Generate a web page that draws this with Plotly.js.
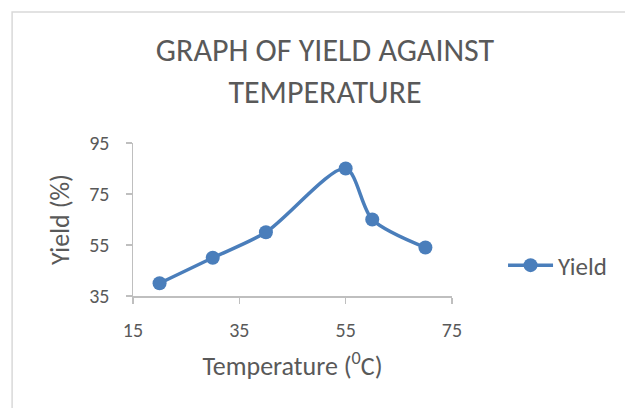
<!DOCTYPE html>
<html>
<head>
<meta charset="utf-8">
<script src="https://cdn.plot.ly/plotly-3.0.1.min.js"></script>
<style>html,body{margin:0;padding:0;background:#fff;}#chart{width:625px;height:408px;}</style>
</head>
<body>
<div id="chart"></div>
<script>
const temperature = [20, 30, 40, 55, 60, 70];
const yieldPct = [40, 50, 60, 85, 65, 54];
const seriesName = 'Yield';
const xTicks = [15, 35, 55, 75];
const yTicks = [35, 55, 75, 95];

const FONT = 'Carlito, "Open Sans", "Noto Sans", sans-serif';
const GRAY = '#595959';
const AXIS = '#bfbfbf';
const BLUE = '#4a7ebb';

const trace = {
  x: temperature, y: yieldPct, name: seriesName,
  type: 'scatter', mode: 'lines+markers',
  line: {color: BLUE, width: 3.5, shape: 'spline', smoothing: 0.8},
  marker: {color: BLUE, size: 14}
};

const layout = {
  width: 625, height: 408,
  margin: {l: 133, r: 173, t: 143, b: 112, pad: 0},
  paper_bgcolor: '#fff', plot_bgcolor: '#fff',
  font: {family: FONT, color: GRAY},
  title: {text: 'GRAPH OF YIELD AGAINST<br>TEMPERATURE', font: {size: 32, color: GRAY, family: FONT},
          x: 0.52, xanchor: 'center', y: 0.85, yanchor: 'middle'},
  xaxis: {range: [15, 75], tickvals: xTicks, ticktext: xTicks.map(String),
          showgrid: false, zeroline: false, showline: true, linecolor: AXIS, linewidth: 1.5,
          ticks: 'outside', ticklen: 6, tickcolor: AXIS, tickwidth: 1.5, ticklabelstandoff: 9,
          tickfont: {size: 20, color: GRAY}, fixedrange: true,
          title: {text: 'Temperature (<sup>0</sup>C)', font: {size: 26, color: GRAY}, standoff: 16}},
  yaxis: {range: [35, 95], tickvals: yTicks, ticktext: yTicks.map(String),
          showgrid: false, zeroline: false, showline: true, linecolor: AXIS, linewidth: 1.5,
          ticks: 'outside', ticklen: 6, tickcolor: AXIS, tickwidth: 1.5, ticklabelstandoff: 12,
          tickfont: {size: 20, color: GRAY}, fixedrange: true,
          title: {text: 'Yield (%)', font: {size: 26, color: GRAY}, standoff: 12}},
  showlegend: true,
  legend: {x: 1.16, xanchor: 'left', y: 0.2, yanchor: 'middle', font: {size: 25, color: GRAY},
           bgcolor: 'rgba(0,0,0,0)', itemwidth: 45},
  shapes: [{type: 'rect', xref: 'paper', yref: 'paper', x0: -0.379, x1: 2, y0: -2, y1: 1.856,
            line: {color: '#d9d9d9', width: 1.5}, fillcolor: 'rgba(0,0,0,0)', layer: 'below'}]
};

Plotly.newPlot('chart', [trace], layout, {displayModeBar: false, staticPlot: true});
</script>
</body>
</html>
